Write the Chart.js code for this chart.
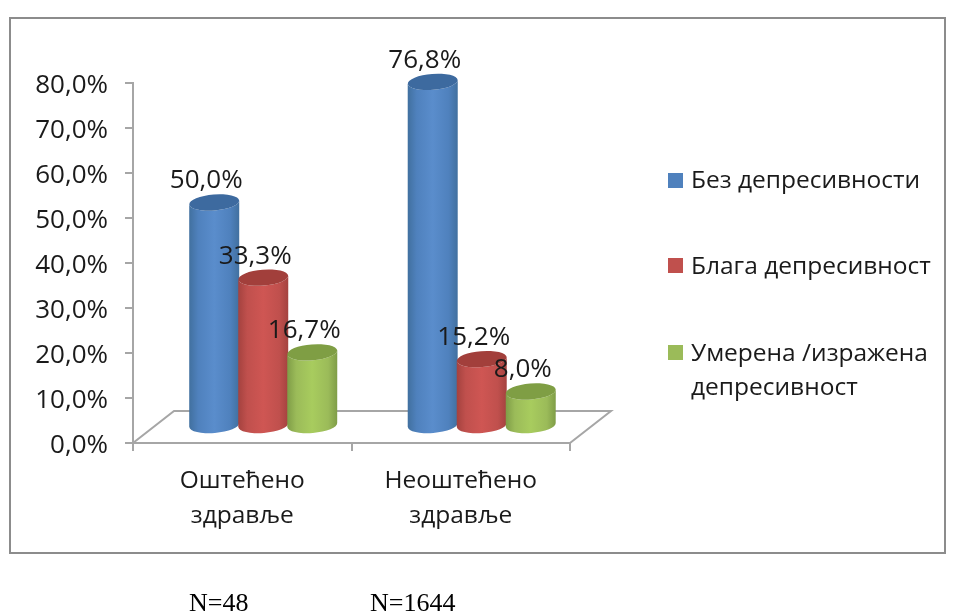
<!DOCTYPE html>
<html>
<head>
<meta charset="utf-8">
<style>html,body{margin:0;padding:0;background:#fff}canvas{display:block}</style>
<script src="https://cdn.jsdelivr.net/npm/chart.js@4/dist/chart.umd.min.js"></script>
</head>
<body>
<canvas id="c" width="953" height="616"></canvas>
<script>
const categories = [['Оштећено','здравље'],['Неоштећено','здравље']];
const seriesNames = ['Без депресивности','Блага депресивност','Умерена /изражена депресивност'];
const legendLines = [['Без депресивности'],['Блага депресивност'],['Умерена /изражена','депресивност']];
const noDepression = [50.0, 76.8];
const mildDepression = [33.3, 15.2];
const severeDepression = [16.7, 8.0];
const sampleNotes = ['N=48','N=1644'];
const fillColors = ['#4f81bd','#c0504d','#9bbb59'];
const edgeColors = ['#41709f','#a4423f','#7f9d47'];
const midColors  = ['#5a8dcc','#cf5653','#a8cc5e'];
const topColors  = ['#3d6a9f','#a23f3b','#7f9e44'];
const FONT = '"Open Sans", sans-serif';
const GRAY = '#a6a6a6';
const fmt = v => v.toFixed(1).replace('.', ',') + '%';

const SHIFT_X = 21, SHIFT_Y = -17, RY = 8, TILT = -0.08;

function cylinder(ctx, bar, i) {
  const cx = bar.x + SHIFT_X, top = bar.y + SHIFT_Y + 1.5, base = bar.base + SHIFT_Y;
  const rx = bar.width / 2 + 0.5;
  const dy = rx * Math.sin(TILT);
  const g = ctx.createLinearGradient(cx - rx, 0, cx + rx, 0);
  g.addColorStop(0, edgeColors[i]);
  g.addColorStop(0.18, fillColors[i]);
  g.addColorStop(0.5, midColors[i]);
  g.addColorStop(0.82, fillColors[i]);
  g.addColorStop(1, edgeColors[i]);
  ctx.beginPath();
  ctx.moveTo(cx - rx, top - dy);
  ctx.lineTo(cx - rx, base - dy);
  ctx.ellipse(cx, base, rx, RY, TILT, Math.PI, 0, true);
  ctx.lineTo(cx + rx, top + dy);
  ctx.ellipse(cx, top, rx, RY, TILT, 0, Math.PI, false);
  ctx.closePath();
  ctx.fillStyle = g;
  ctx.fill();
  ctx.beginPath();
  ctx.ellipse(cx, top, rx, RY, TILT, 0, Math.PI * 2);
  ctx.fillStyle = topColors[i];
  ctx.fill();
}

const decor = {
  id: 'decor',
  beforeDraw(chart) {
    const ctx = chart.ctx;
    ctx.save();
    ctx.fillStyle = '#fff';
    ctx.fillRect(0, 0, chart.width, chart.height);
    ctx.strokeStyle = '#8c8c8c';
    ctx.lineWidth = 2;
    ctx.strokeRect(10, 18, 935, 535);
    ctx.restore();
  },
  beforeDatasetsDraw(chart) {
    const ctx = chart.ctx, a = chart.chartArea;
    ctx.save();
    ctx.strokeStyle = GRAY;
    ctx.lineWidth = 2;
    ctx.beginPath();
    ctx.moveTo(a.left, a.bottom);
    ctx.lineTo(a.left + 41, a.bottom - 32);
    ctx.lineTo(a.right + 41, a.bottom - 32);
    ctx.lineTo(a.right, a.bottom);
    ctx.stroke();
    categories.forEach((_, k) => {
      chart.data.datasets.forEach((d, i) => cylinder(ctx, chart.getDatasetMeta(i).data[k], i));
    });
    ctx.restore();
  },
  beforeDatasetDraw() { return false; },
  afterDatasetsDraw(chart) {
    const ctx = chart.ctx;
    ctx.save();
    ctx.font = '26px ' + FONT;
    ctx.fillStyle = '#1a1a1a';
    ctx.textAlign = 'center';
    ctx.textBaseline = 'middle';
    chart.data.datasets.forEach((d, i) => {
      chart.getDatasetMeta(i).data.forEach((bar, k) => {
        ctx.fillText(fmt(d.data[k]), bar.x + SHIFT_X - 8, bar.y + SHIFT_Y - 20);
      });
    });
    // legend
    const squareY = [173, 258, 345], textY = [181, 267, 354];
    ctx.font = '24.5px ' + FONT;
    ctx.textAlign = 'left';
    legendLines.forEach((lines, i) => {
      ctx.fillStyle = fillColors[i];
      ctx.fillRect(668, squareY[i], 15, 15);
      ctx.fillStyle = '#1a1a1a';
      lines.forEach((t, j) => ctx.fillText(t, 691, textY[i] + j * 34));
    });
    // sample notes
    ctx.font = '26px "Liberation Serif", serif';
    ctx.fillStyle = '#000';
    ctx.textBaseline = 'alphabetic';
    ctx.fillText(sampleNotes[0], 189, 611);
    ctx.fillText(sampleNotes[1], 370, 611);
    ctx.restore();
  }
};

new Chart(document.getElementById('c'), {
  type: 'bar',
  data: {
    labels: categories,
    datasets: [noDepression, mildDepression, severeDepression].map((data, i) => ({
      label: seriesNames[i],
      data,
      backgroundColor: fillColors[i],
      categoryPercentage: 0.673,
      barPercentage: 1
    }))
  },
  options: {
    responsive: false,
    animation: false,
    layout: { padding: { left: 0, right: 383, top: 83, bottom: 0 } },
    plugins: { legend: { display: false }, tooltip: { enabled: false } },
    scales: {
      y: {
        min: 0, max: 80,
        afterFit: s => { s.width = 133; },
        ticks: { stepSize: 10, callback: v => fmt(v), font: { family: FONT, size: 26 }, color: '#1a1a1a', padding: 17, labelOffset: 3 },
        border: { color: GRAY, width: 2 },
        grid: { drawOnChartArea: false, drawTicks: true, tickLength: 8, color: GRAY, lineWidth: 2 }
      },
      x: {
        afterFit: s => { s.height = 173; },
        ticks: { maxRotation: 0, autoSkip: false, font: { family: FONT, size: 24.5, lineHeight: 1.43 }, color: '#1a1a1a', padding: 12 },
        border: { color: GRAY, width: 2 },
        grid: { drawOnChartArea: false, drawTicks: true, tickLength: 8, color: GRAY, lineWidth: 2 }
      }
    }
  },
  plugins: [decor]
});
</script>
</body>
</html>
